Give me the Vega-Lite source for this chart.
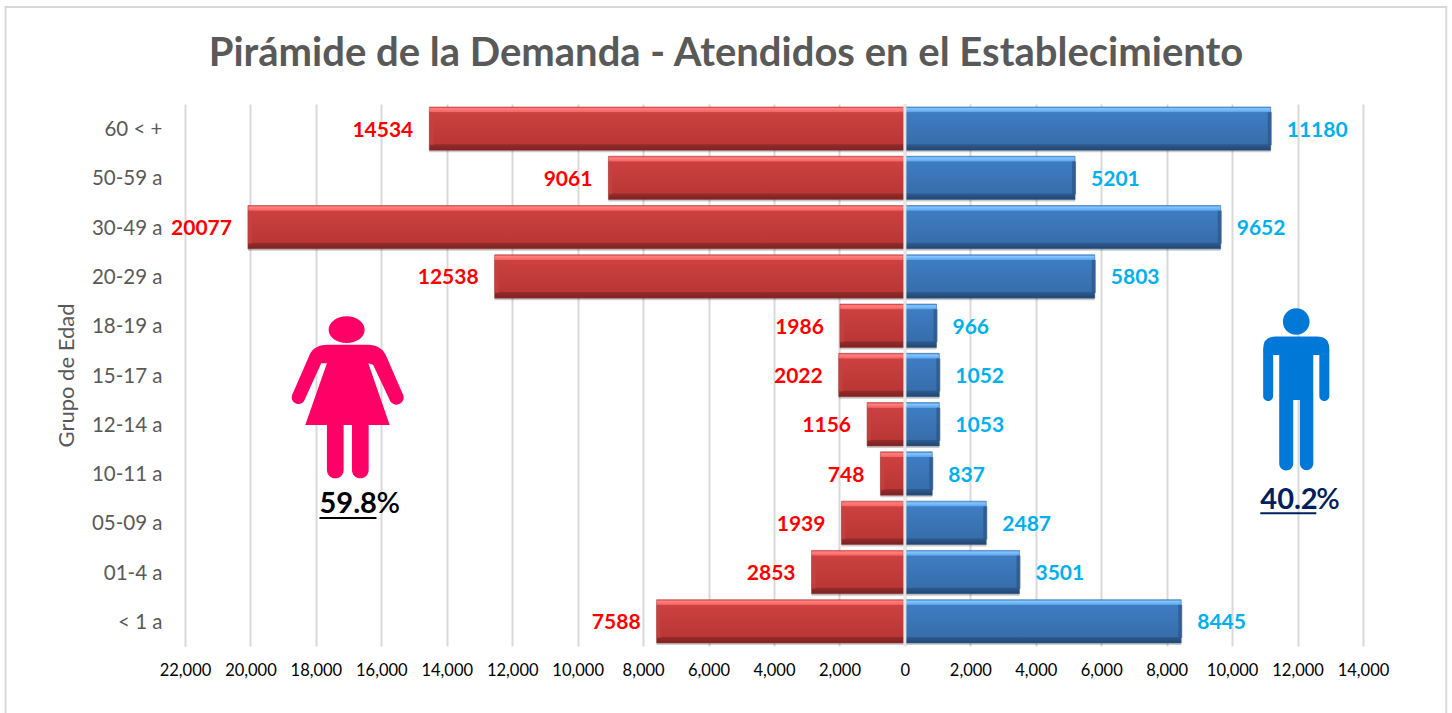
{
"$schema":"https://vega.github.io/schema/vega-lite/v6.json",
"width":1178,"height":542,
"autosize":{"type":"none"},
"padding":{"left":185,"top":104,"right":89,"bottom":67},
"background":"white",
"view":{"stroke":null},
"title":{"text":"Pirámide de la Demanda - Atendidos en el Establecimiento","font":"Lato","fontSize":40,"fontWeight":"bold","color":"#595959","anchor":"middle","dx":-48,"offset":-68},
"datasets":{
"piramide":[
{"grupo":"60 < +","sexo":"Mujeres","valor":-14534,"atendidos":14534},
{"grupo":"50-59 a","sexo":"Mujeres","valor":-9061,"atendidos":9061},
{"grupo":"30-49 a","sexo":"Mujeres","valor":-20077,"atendidos":20077},
{"grupo":"20-29 a","sexo":"Mujeres","valor":-12538,"atendidos":12538},
{"grupo":"18-19 a","sexo":"Mujeres","valor":-1986,"atendidos":1986},
{"grupo":"15-17 a","sexo":"Mujeres","valor":-2022,"atendidos":2022},
{"grupo":"12-14 a","sexo":"Mujeres","valor":-1156,"atendidos":1156},
{"grupo":"10-11 a","sexo":"Mujeres","valor":-748,"atendidos":748},
{"grupo":"05-09 a","sexo":"Mujeres","valor":-1939,"atendidos":1939},
{"grupo":"01-4 a","sexo":"Mujeres","valor":-2853,"atendidos":2853},
{"grupo":"< 1 a","sexo":"Mujeres","valor":-7588,"atendidos":7588},
{"grupo":"60 < +","sexo":"Hombres","valor":11180,"atendidos":11180},
{"grupo":"50-59 a","sexo":"Hombres","valor":5201,"atendidos":5201},
{"grupo":"30-49 a","sexo":"Hombres","valor":9652,"atendidos":9652},
{"grupo":"20-29 a","sexo":"Hombres","valor":5803,"atendidos":5803},
{"grupo":"18-19 a","sexo":"Hombres","valor":966,"atendidos":966},
{"grupo":"15-17 a","sexo":"Hombres","valor":1052,"atendidos":1052},
{"grupo":"12-14 a","sexo":"Hombres","valor":1053,"atendidos":1053},
{"grupo":"10-11 a","sexo":"Hombres","valor":837,"atendidos":837},
{"grupo":"05-09 a","sexo":"Hombres","valor":2487,"atendidos":2487},
{"grupo":"01-4 a","sexo":"Hombres","valor":3501,"atendidos":3501},
{"grupo":"< 1 a","sexo":"Hombres","valor":8445,"atendidos":8445}
],
"porcentajes":[
{"serie":"Mujeres","parte":"cifra","texto":"59.8","px":-17890,"py":26.2},
{"serie":"Mujeres","parte":"signo","texto":"%","px":-16148,"py":26.2},
{"serie":"Hombres","parte":"cifra","texto":"40.2","px":10862,"py":26.9},
{"serie":"Hombres","parte":"signo","texto":"%","px":12573,"py":26.9}
],
"subrayados":[
{"serie":"Mujeres","px":-17890,"px2":-16148,"py":23.6},
{"serie":"Hombres","px":10862,"px2":12573,"py":24.5}
],
"iconos":[
{"serie":"Mujeres","px":-17040,"py":45.9},
{"serie":"Hombres","px":11960,"py":47.3}
],
"marco":[{"px":-27485,"px2":16545,"py":117.9,"py2":-15.5}]
},
"resolve":{"scale":{"y":"independent"}},
"layer":[
{
"data":{"name":"piramide"},
"encoding":{
"y":{"field":"grupo","type":"nominal","title":"Grupo de Edad",
"scale":{"domain":["60 < +","50-59 a","30-49 a","20-29 a","18-19 a","15-17 a","12-14 a","10-11 a","05-09 a","01-4 a","< 1 a"],"paddingInner":0.12,"paddingOuter":0.06},
"axis":{"domain":false,"ticks":false,"labelPadding":23,"labelOffset":1.5,"labelFont":"Lato","labelFontSize":20.5,"labelColor":"#595959","titleFont":"Lato","titleFontSize":22,"titleFontWeight":"normal","titleColor":"#595959","titleX":-107,"titleY":271}},
"x":{"field":"valor","type":"quantitative","title":null,
"scale":{"domain":[-22000,14000],"nice":false},
"axis":{"values":[-22000,-20000,-18000,-16000,-14000,-12000,-10000,-8000,-6000,-4000,-2000,0,2000,4000,6000,8000,10000,12000,14000],"labelExpr":"format(abs(datum.value),',')","labelOverlap":false,"labelFlush":false,"domain":false,"ticks":false,"grid":true,"gridColor":"#d9d9d9","gridWidth":2,"labelPadding":16,"labelFont":"Lato","labelFontSize":16.5,"labelColor":"#000000"}}
},
"layer":[
{"mark":{"type":"bar","color":"#000000","opacity":0.2,"yOffset":2}},
{"transform":[{"filter":"datum.sexo === 'Mujeres'"}],
"mark":{"type":"bar","stroke":"#a33030","strokeWidth":0.5,"fill":{"gradient":"linear","x1":0,"y1":0,"x2":0,"y2":1,"stops":[{"offset":0,"color":"#e64a4a"},{"offset":0.04,"color":"#ff8080"},{"offset":0.11,"color":"#f86565"},{"offset":0.13,"color":"#cc4040"},{"offset":0.85,"color":"#b93735"},{"offset":0.87,"color":"#942b2a"},{"offset":1,"color":"#7a2322"}]}}},
{"transform":[{"filter":"datum.sexo === 'Hombres'"}],
"mark":{"type":"bar","stroke":"#2f5c92","strokeWidth":0.5,"fill":{"gradient":"linear","x1":0,"y1":0,"x2":0,"y2":1,"stops":[{"offset":0,"color":"#3f8fe0"},{"offset":0.04,"color":"#84c4ff"},{"offset":0.11,"color":"#5fa8ee"},{"offset":0.13,"color":"#3e7cc2"},{"offset":0.85,"color":"#376eab"},{"offset":0.87,"color":"#2c5a90"},{"offset":1,"color":"#22456f"}]}}},
{"transform":[{"filter":"datum.sexo === 'Hombres'"}],
"mark":{"type":"tick","orient":"vertical","color":"#2b5587","thickness":4,"size":33,"xOffset":-1}},
{"transform":[{"filter":"datum.sexo === 'Mujeres'"}],
"mark":{"type":"tick","orient":"vertical","color":"#c44341","thickness":4,"size":33,"xOffset":2}},
{"transform":[{"filter":"datum.sexo === 'Mujeres'"}],
"mark":{"type":"text","align":"right","baseline":"middle","dx":-16,"dy":2,"font":"Lato","fontSize":21,"fontWeight":"bold","color":"#ff0000"},
"encoding":{"text":{"field":"atendidos","type":"nominal"}}},
{"transform":[{"filter":"datum.sexo === 'Hombres'"}],
"mark":{"type":"text","align":"left","baseline":"middle","dx":16,"dy":2,"font":"Lato","fontSize":21,"fontWeight":"bold","color":"#00b0f0"},
"encoding":{"text":{"field":"atendidos","type":"nominal"}}},
{"data":{"values":[{"valor":0}]},"mark":{"type":"rule","color":"#e6e6e6","strokeWidth":3},"encoding":{"y":{"value":0},"y2":{"value":542}}}
]
},
{
"encoding":{
"x":{"field":"px","type":"quantitative","title":null,"scale":{"domain":[-22000,14000],"nice":false},
"axis":{"values":[-22000,-20000,-18000,-16000,-14000,-12000,-10000,-8000,-6000,-4000,-2000,0,2000,4000,6000,8000,10000,12000,14000],"labelExpr":"format(abs(datum.value),',')","labelOverlap":false,"labelFlush":false,"domain":false,"ticks":false,"grid":true,"gridColor":"#d9d9d9","gridWidth":2,"labelPadding":16,"labelFont":"Lato","labelFontSize":16.5,"labelColor":"#000000"}},
"y":{"field":"py","type":"quantitative","title":null,"axis":null,"scale":{"domain":[0,100],"nice":false}}
},
"layer":[
{"data":{"name":"marco"},"mark":{"type":"rect","fillOpacity":0,"stroke":"#d9d9d9","strokeWidth":2},
"encoding":{"x2":{"field":"px2"},"y2":{"field":"py2"}}},
{"data":{"name":"iconos"},"transform":[{"filter":"datum.serie === 'Mujeres'"}],
"mark":{"type":"point","filled":true,"opacity":1,"color":"#ff0066","size":26569,"shape":"M-0.229 -0.828A0.221 0.164 0 1 1 0.213 -0.828A0.221 0.164 0 1 1 -0.229 -0.828ZM-0.238 -0.643L0.254 -0.643Q0.418 -0.643 0.480 -0.5L0.676 -0.049A0.08 0.08 0 0 1 0.529 0.053L0.316 -0.398L0.258 -0.418L0.520 0.340L0.262 0.340L0.262 0.893A0.102 0.102 0 0 1 0.057 0.893L0.057 0.340L-0.045 0.340L-0.045 0.893A0.102 0.102 0 0 1 -0.25 0.893L-0.25 0.340L-0.516 0.340L-0.25 -0.418L-0.320 -0.418L-0.525 0.033A0.08 0.08 0 0 1 -0.676 -0.029L-0.471 -0.5Q-0.422 -0.643 -0.238 -0.643Z"}},
{"data":{"name":"iconos"},"transform":[{"filter":"datum.serie === 'Hombres'"}],
"mark":{"type":"point","filled":true,"opacity":1,"color":"#0078d7","size":26569,"shape":"M-0.164 -0.836A0.164 0.164 0 1 1 0.164 -0.836A0.164 0.164 0 1 1 -0.164 -0.836ZM-0.25 -0.652L0.25 -0.652Q0.406 -0.652 0.406 -0.5L0.406 0.078A0.061 0.061 0 0 1 0.283 0.078L0.283 -0.426L0.209 -0.426L0.209 0.906A0.082 0.082 0 0 1 0.045 0.906L0.045 0.127L-0.037 0.127L-0.037 0.906A0.086 0.086 0 0 1 -0.209 0.906L-0.209 -0.426L-0.283 -0.426L-0.283 0.078A0.061 0.061 0 0 1 -0.406 0.078L-0.406 -0.5Q-0.406 -0.652 -0.25 -0.652Z"}},
{"data":{"name":"porcentajes"},"transform":[{"filter":"datum.parte === 'cifra'"}],
"mark":{"type":"text","align":"left","baseline":"middle","font":"Lato","fontSize":29,"fontWeight":"bold"},
"encoding":{"text":{"field":"texto"},"color":{"field":"serie","type":"nominal","legend":null,"scale":{"domain":["Mujeres","Hombres"],"range":["#000000","#002060"]}}}},
{"data":{"name":"porcentajes"},"transform":[{"filter":"datum.parte === 'signo'"}],
"mark":{"type":"text","align":"left","baseline":"middle","font":"Lato","fontSize":29,"fontWeight":"600"},
"encoding":{"text":{"field":"texto"},"color":{"field":"serie","type":"nominal","legend":null,"scale":{"domain":["Mujeres","Hombres"],"range":["#000000","#002060"]}}}},
{"data":{"name":"subrayados"},"mark":{"type":"rule","strokeWidth":2},
"encoding":{"x2":{"field":"px2"},"color":{"field":"serie","type":"nominal","legend":null,"scale":{"domain":["Mujeres","Hombres"],"range":["#000000","#002060"]}}}}
]
}
]
}
